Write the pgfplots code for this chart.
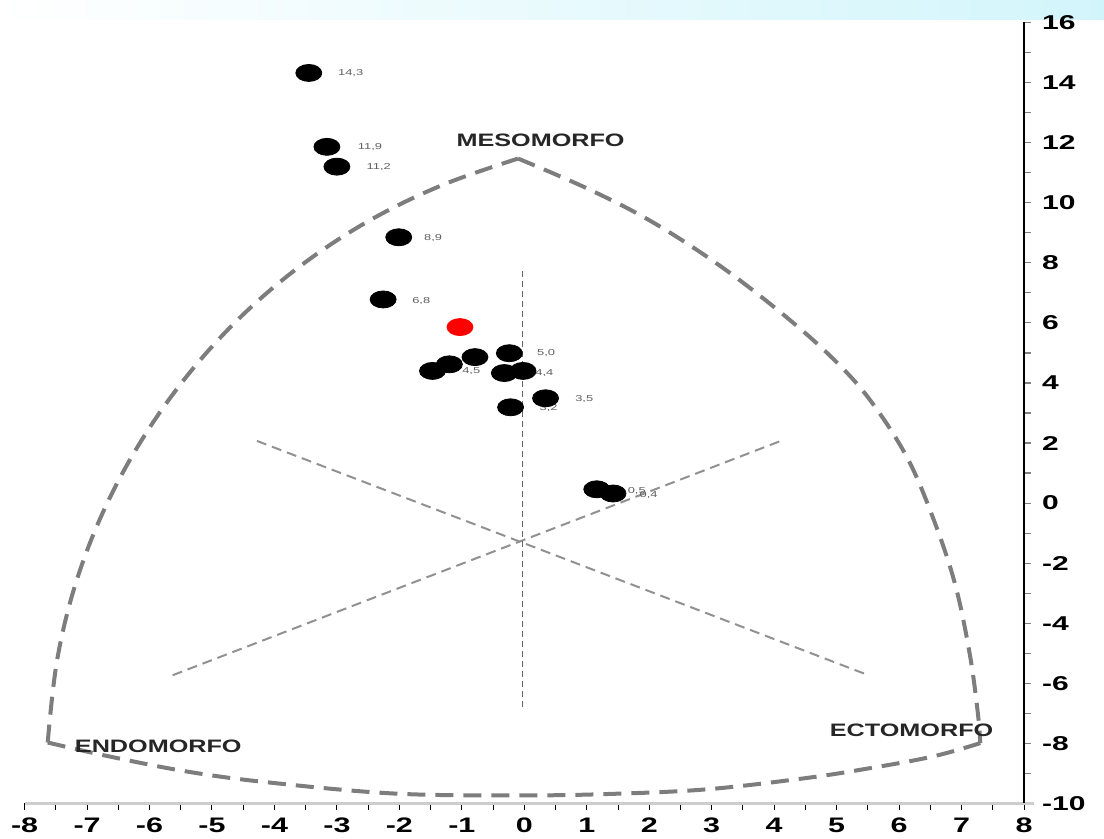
\documentclass[border=0pt]{standalone}
\usepackage{fontspec}
\setmainfont{Liberation Sans}
\usepackage{graphicx}
\usepackage{pgfplots}
\pgfplotsset{compat=1.18}
\definecolor{arcgray}{RGB}{125,125,125}
\definecolor{linegray}{RGB}{145,145,145}
\definecolor{vgray}{RGB}{100,100,100}
\definecolor{lblgray}{RGB}{95,95,95}
\definecolor{axgray}{RGB}{205,205,205}
\definecolor{bandA}{RGB}{175,233,247}
\definecolor{bandB}{RGB}{210,245,251}
\begin{document}
\begin{tikzpicture}
\path[use as bounding box] (-12.3pt,-17.75pt) rectangle (539.7pt,401.75pt);
\shade[left color=white, middle color=bandA, right color=bandB] (-12.3pt,391.75pt) rectangle (539.7pt,401.75pt);
\begin{axis}[
  scale only axis, width=499.7pt, height=390.5pt,
  xmin=-8, xmax=8, ymin=-10, ymax=16,
  axis x line*=bottom, axis y line*=right,
  x axis line style={draw=axgray, line width=1.6pt, shorten >=-5pt},
  y axis line style={draw=black, line width=0.7pt},
  xtick={-8,...,8}, ytick={-10,-8,...,16},
  minor x tick num=1, minor y tick num=1,
  tick align=outside,
  major tick length=3.5pt, minor tick length=3.5pt,
  x tick style={black, line width=0.5pt},
  y tick style={gray, line width=0.6pt},
  xticklabel={\scalebox{1.45}[1]{\bfseries\fontsize{10.5}{12}\selectfont\pgfmathprintnumber[assume math mode=true]{\tick}}},
  yticklabel={\scalebox{1.5}[1]{\bfseries\fontsize{10}{12}\selectfont\pgfmathprintnumber[assume math mode=true]{\tick}}},
  yticklabel style={xshift=2pt},
  clip=false,
  outline/.style={arcgray, line width=2pt, dash pattern=on 9pt off 5pt, smooth, tension=0.6},
]
% somatochart outline
\addplot[outline] coordinates {
(-7.63,-7.97) (-7.48,-5.23) (-7.18,-2.66) (-6.72,-0.19) (-6.11,2.15) (-5.37,4.31) (-4.51,6.26) (-3.53,7.98) (-2.46,9.43) (-1.31,10.59) (-0.10,11.47)};
\addplot[outline] coordinates {
(-0.10,11.47) (0.99,10.49) (2.04,9.37) (3.16,7.86) (4.22,6.15) (4.99,4.71) (5.55,3.39) (6.12,1.55) (6.53,-0.42) (6.89,-2.65) (7.13,-5.01) (7.26,-6.98) (7.30,-7.99)};
\addplot[outline] coordinates {
(-7.63,-7.97) (-6.63,-8.44) (-5.39,-8.94) (-4.09,-9.30) (-2.07,-9.67) (-0.03,-9.73) (1.40,-9.68) (2.91,-9.53) (4.45,-9.17) (5.46,-8.85) (6.53,-8.44) (7.30,-7.99)};
% inner axes
\addplot[linegray, line width=1pt, dash pattern=on 5pt off 3pt] coordinates {(-4.28,2.07) (5.51,-5.73)};
\addplot[linegray, line width=1pt, dash pattern=on 5pt off 3pt] coordinates {(-5.63,-5.73) (4.13,2.09)};
\addplot[vgray, line width=0.9pt, dash pattern=on 3pt off 2pt] coordinates {(-0.03,7.72) (-0.03,-6.80)};
% value labels
\addplot[only marks, mark=none, point meta=explicit symbolic,
  nodes near coords={\scalebox{1.5}[1]{\pgfplotspointmeta}},
  every node near coord/.style={anchor=center, text=lblgray, font=\fontsize{4.3}{5}\selectfont, inner sep=0pt}]
  table[meta=lbl] {
x y lbl
-2.78 14.32 14,3
-2.47 11.86 11,9
-2.33 11.20 11,2
-1.46 8.84 8,9
-1.65 6.74 6,8
0.35 4.98 5,0
-0.85 4.39 4,5
0.32 4.32 4,4
0.96 3.46 3,5
0.39 3.16 3,2
1.80 0.41 0,5
1.99 0.27 0,4
};
% points
\addplot[only marks, mark=*, mark size=4.25pt, color=black, mark options={xscale=1.53}] table {
x y
-3.45 14.32
-3.16 11.86
-3.00 11.20
-2.01 8.85
-2.26 6.78
-0.24 4.99
-0.79 4.86
-1.20 4.62
-1.47 4.40
-0.32 4.33
-0.02 4.40
0.34 3.49
-0.22 3.19
1.16 0.46
1.42 0.32
};
\addplot[only marks, mark=*, mark size=4.25pt, color=red, mark options={xscale=1.53}] coordinates {(-1.03,5.86)};
% region names
\node[font=\bfseries\fontsize{9}{10}\selectfont, text=black!85] at (axis cs:0.26,12.09) {\scalebox{1.4}[1]{MESOMORFO}};
\node[font=\bfseries\fontsize{9}{10}\selectfont, text=black!85] at (axis cs:-5.86,-8.11) {\scalebox{1.4}[1]{ENDOMORFO}};
\node[font=\bfseries\fontsize{9}{10}\selectfont, text=black!85] at (axis cs:6.2,-7.57) {\scalebox{1.4}[1]{ECTOMORFO}};
\end{axis}
\end{tikzpicture}
\end{document}
